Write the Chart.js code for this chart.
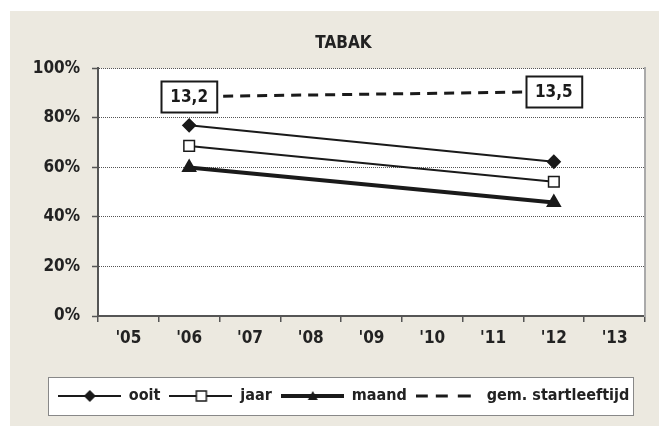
<!DOCTYPE html>
<html>
<head>
<meta charset="utf-8">
<script src="https://cdn.jsdelivr.net/npm/chart.js@4.4.0/dist/chart.umd.min.js"></script>
<style>
  html, body { margin: 0; padding: 0; background: #fff; }
</style>
</head>
<body>
<canvas id="myChart" width="659" height="426"></canvas>
<script>
// data
const years = ["'05", "'06", "'07", "'08", "'09", "'10", "'11", "'12", "'13"];
const ooit = [null, 77, null, null, null, null, null, 62.3, null];
const jaar = [null, 68.7, null, null, null, null, null, 54.2, null];
const maand = [null, 60, null, null, null, null, null, 45.8, null];
const startAge = [null, 13.2, null, null, null, null, null, 13.5, null];
const seriesNames = ["ooit", "jaar", "maand", "gem. startleeftijd"];

const FONT = "'DejaVu Sans Condensed', 'Liberation Sans Narrow', sans-serif";
const INK = "#1a1a1a";
const SYM_W = 63;

// little canvases used as legend symbols (line + marker)
function makeSymbol(kind) {
  const c = document.createElement("canvas");
  c.width = SYM_W;
  c.height = 16;
  const g = c.getContext("2d");
  const cx = Math.round(SYM_W / 2), cy = 8;
  g.strokeStyle = INK;
  g.fillStyle = INK;
  if (kind === "dash") {
    g.lineWidth = 3;
    [[0, 12], [20, 32], [42, 55]].forEach(function (d) {
      g.beginPath();
      g.moveTo(d[0], cy);
      g.lineTo(d[1], cy);
      g.stroke();
    });
    return c;
  }
  g.lineWidth = kind === "triangle" ? 4 : 2;
  g.beginPath();
  g.moveTo(0, cy);
  g.lineTo(SYM_W, cy);
  g.stroke();
  if (kind === "diamond") {
    g.beginPath();
    g.moveTo(cx, cy - 6);
    g.lineTo(cx + 6, cy);
    g.lineTo(cx, cy + 6);
    g.lineTo(cx - 6, cy);
    g.closePath();
    g.fill();
  } else if (kind === "square") {
    g.fillStyle = "#fff";
    g.fillRect(cx - 5, cy - 5, 10, 10);
    g.lineWidth = 1.5;
    g.strokeRect(cx - 5, cy - 5, 10, 10);
  } else if (kind === "triangle") {
    g.beginPath();
    g.moveTo(cx, cy - 5);
    g.lineTo(cx + 5, cy + 4);
    g.lineTo(cx - 5, cy + 4);
    g.closePath();
    g.fill();
  }
  return c;
}
const symbols = [makeSymbol("diamond"), makeSymbol("square"), makeSymbol("triangle"), makeSymbol("dash")];

const tabakPlugin = {
  id: "tabak",
  beforeDraw(chart) {
    const ctx = chart.ctx;
    const a = chart.chartArea;
    ctx.save();
    ctx.fillStyle = "#ECE9E0";
    ctx.fillRect(10, 11, chart.width - 10, chart.height - 11);
    ctx.fillStyle = "#fff";
    ctx.fillRect(a.left, a.top, a.right - a.left, a.bottom - a.top);
    const hb = chart.legend.legendHitBoxes;
    if (hb && hb.length) {
      const first = hb[0], last = hb[hb.length - 1];
      const x0 = Math.round(first.left - 10) + 0.5;
      const x1 = Math.round(last.left + last.width + 4) + 0.5;
      const y0 = Math.round(first.top - 11) + 0.5;
      const y1 = Math.round(first.top + first.height + 11) + 0.5;
      ctx.fillRect(x0, y0, x1 - x0, y1 - y0);
      ctx.strokeStyle = "#888";
      ctx.lineWidth = 1;
      ctx.strokeRect(x0, y0, x1 - x0, y1 - y0);
    }
    ctx.restore();
  },
  afterDatasetsDraw(chart) {
    const ctx = chart.ctx;
    const meta = chart.getDatasetMeta(3);
    ctx.save();
    ctx.font = "bold 17px " + FONT;
    ctx.textAlign = "center";
    ctx.textBaseline = "middle";
    startAge.forEach(function (v, i) {
      if (v == null) return;
      const pt = meta.data[i];
      const txt = v.toFixed(1).replace(".", ",");
      const w = ctx.measureText(txt).width + 18;
      const h = 31;
      const x = Math.round(pt.x - w / 2) + 0.5;
      const y = Math.round(pt.y - h / 2) + 0.5;
      ctx.fillStyle = "#fff";
      ctx.fillRect(x, y, w, h);
      ctx.strokeStyle = INK;
      ctx.lineWidth = 2;
      ctx.strokeRect(x, y, w, h);
      ctx.fillStyle = INK;
      ctx.fillText(txt, pt.x, pt.y + 1);
    });
    ctx.restore();
  }
};

const ctx = document.getElementById("myChart").getContext("2d");
const myChart = new Chart(ctx, {
  type: "line",
  data: {
    labels: years,
    datasets: [
      {
        label: seriesNames[0],
        data: ooit,
        borderColor: INK,
        backgroundColor: INK,
        borderWidth: 2,
        pointStyle: "rectRot",
        pointRadius: 6,
        pointBackgroundColor: INK,
        spanGaps: true,
        yAxisID: "y",
      },
      {
        label: seriesNames[1],
        data: jaar,
        borderColor: INK,
        backgroundColor: "#fff",
        borderWidth: 2,
        pointStyle: "rect",
        pointRadius: 7.5,
        pointBackgroundColor: "#fff",
        pointBorderColor: INK,
        pointBorderWidth: 1.5,
        spanGaps: true,
        yAxisID: "y",
      },
      {
        label: seriesNames[2],
        data: maand,
        borderColor: INK,
        backgroundColor: INK,
        borderWidth: 4,
        pointStyle: "triangle",
        pointRadius: 5,
        pointBackgroundColor: INK,
        spanGaps: true,
        yAxisID: "y",
      },
      {
        label: seriesNames[3],
        data: startAge,
        borderColor: INK,
        borderWidth: 3,
        borderDash: [10, 7],
        pointRadius: 0,
        spanGaps: true,
        yAxisID: "y2",
      },
    ],
  },
  options: {
    responsive: false,
    devicePixelRatio: 1,
    animation: false,
    events: [],
    layout: { padding: { left: 42, right: 14, top: 11, bottom: 12 } },
    plugins: {
      title: {
        display: true,
        text: "TABAK",
        color: "#222",
        font: { family: FONT, size: 17, weight: "bold" },
        padding: { top: 22, bottom: 15 },
      },
      legend: {
        position: "bottom",
        labels: {
          usePointStyle: true,
          pointStyleWidth: SYM_W,
          padding: 9,
          color: "#222",
          font: { family: FONT, size: 16, weight: "bold" },
          generateLabels(chart) {
            const items = Chart.defaults.plugins.legend.labels.generateLabels(chart);
            items.forEach(function (it, i) { it.pointStyle = symbols[i]; });
            return items;
          },
        },
      },
      tooltip: { enabled: false },
    },
    scales: {
      x: {
        offset: true,
        grid: { offset: true, drawOnChartArea: false, tickLength: 6, color: "#555", lineWidth: 1.5 },
        border: { color: "#555", width: 2 },
        ticks: {
          color: "#222",
          padding: 6,
          maxRotation: 0,
          autoSkip: false,
          font: { family: FONT, size: 17, weight: "bold" },
        },
        afterFit(s) { s.height = 63; },
      },
      y: {
        position: "left",
        min: 0,
        max: 100,
        ticks: {
          stepSize: 20,
          padding: 12,
          color: "#222",
          font: { family: FONT, size: 17, weight: "bold" },
          callback: (v) => v + "%",
        },
        grid: { color: "#555", lineWidth: 1, tickLength: 6, tickColor: "#555", tickWidth: 1.5 },
        border: { color: "#555", width: 2, dash: [1, 1] },
        afterFit(s) {
          s.width = 56;
          // labels reach left of the axis box, so do not clip them to it
          s._computeLabelArea = () => undefined;
        },
      },
      y2: {
        position: "right",
        min: 0,
        max: 14.9,
        ticks: { display: false },
        grid: { drawOnChartArea: false, drawTicks: false },
        border: { color: "#aaa", width: 2 },
        afterFit(s) { s.width = 0; },
      },
    },
  },
  plugins: [tabakPlugin],
});
</script>
</body>
</html>
